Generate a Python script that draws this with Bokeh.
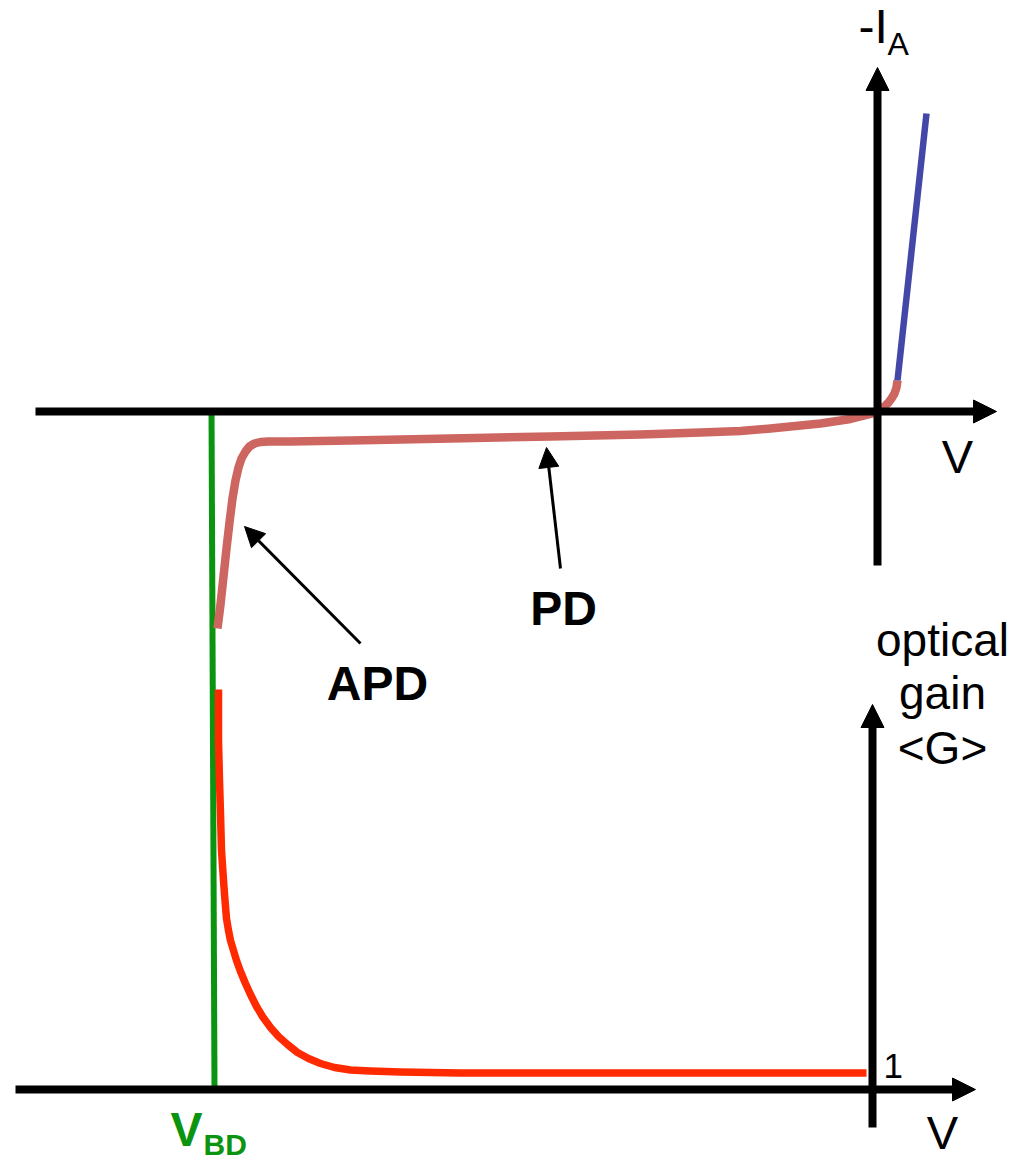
from bokeh.plotting import figure
from bokeh.models import Range1d, Arrow, NormalHead
from bokeh.core.properties import value
from bokeh.embed import file_html
from bokeh.resources import INLINE

FONT = value("Liberation Sans")

# Drawing space: x to the right, y downwards (0..1163)
# Photodiode I-V curve (-I_A versus V), forward branch
fwd_x = [897, 926]
fwd_y = [380, 113]

# Reverse-bias branch: flat PD plateau, rising into the APD knee near breakdown
rev_x = [897, 896, 894, 891, 888, 884, 880, 876, 870, 860, 850, 840, 820, 800, 770,
         740, 700, 640, 550, 450, 350, 290, 268, 260, 254, 249, 245, 241, 238, 235,
         232, 229, 226, 223, 220, 217]
rev_y = [380, 387, 393, 398, 402, 406, 409, 411, 413.5, 416, 418.5, 420, 423, 425, 428,
         430.5, 432, 434, 436, 438, 440, 441, 441, 441.5, 443, 446, 451, 458, 467, 480,
         498, 522, 548, 576, 604, 628]

# Optical gain <G> versus V (gain 1 far from breakdown)
gain_x = [218, 218, 219, 220, 221, 223, 224.5, 226, 228, 230, 233, 236, 240, 245, 250,
          256, 262, 270, 278, 287, 297, 308, 320, 334, 350, 370, 400, 460, 866]
gain_y = [689, 740, 780, 813, 850, 880, 900, 918, 930, 940, 950, 960, 971, 983, 994,
          1006, 1016, 1027, 1036, 1044, 1052, 1058, 1063, 1067, 1069.5, 1070.5, 1071.5,
          1072.5, 1072.5]

# Breakdown voltage marker
vbd_x = [211, 214]
vbd_y = [408, 1088]

# Axes: (x_start, y_start, x_end, y_end)
axes = [
    (35, 411, 996, 411),     # upper V axis
    (877, 565, 877, 67),     # -I_A axis
    (15, 1089, 975, 1089),   # lower V axis
    (872, 1127, 872, 704),   # gain axis
]

# Pointer arrows (tail -> tip)
pointers = [
    (560, 568, 546, 447),    # PD
    (360, 643, 244, 526),    # APD
]

p = figure(width=1024, height=1163, output_backend="svg", toolbar_location=None,
           x_range=Range1d(0, 1024), y_range=Range1d(1163, 0),
           min_border=0, outline_line_color=None, background_fill_color="white")
p.axis.visible = False
p.grid.visible = False

for x0, y0, x1, y1 in axes:
    p.add_layout(Arrow(x_start=x0, y_start=y0, x_end=x1, y_end=y1,
                       line_width=8, line_color="black",
                       end=NormalHead(size=23, fill_color="black", line_color="black", line_width=1)))

p.line(vbd_x, vbd_y, line_color="#0b9410", line_width=6)
p.line(rev_x, rev_y, line_color="#cd6660", line_width=8.5, line_join="round", line_cap="butt")
p.line(fwd_x, fwd_y, line_color="#4348a8", line_width=6.5)
p.line(gain_x, gain_y, line_color="#ff2a00", line_width=7.5, line_join="round")

for x0, y0, x1, y1 in pointers:
    p.add_layout(Arrow(x_start=x0, y_start=y0, x_end=x1, y_end=y1,
                       line_width=3, line_color="black",
                       end=NormalHead(size=20, fill_color="black", line_color="black", line_width=1)))

def label(x, y, t, size, color="black", bold=False, align="left"):
    # y is the glyph baseline; shift by the renderer's descent allowance
    p.text(x=[x], y=[y - 0.36 * size], text=[t], text_font=FONT, text_font_size=f"{size}px",
           text_color=color, text_align=align, text_baseline="alphabetic",
           text_font_style="bold" if bold else "normal")

label(858, 43, "-I", 48)
label(887, 55, "A", 32)
label(957, 473, "V", 47, align="center")
label(942, 1149, "V", 47, align="center")
label(883, 1078, "1", 35)
label(942, 656, "optical", 46, align="center")
label(942, 709, "gain", 46, align="center")
label(942, 764, "<G>", 46, align="center")
label(563, 625, "PD", 48, bold=True, align="center")
label(377, 700, "APD", 48, bold=True, align="center")
label(170, 1146, "V", 48, color="#0b9410", bold=True)
label(203, 1155, "BD", 30, color="#0b9410", bold=True)

open("out.html", "w").write(file_html(p, INLINE))
